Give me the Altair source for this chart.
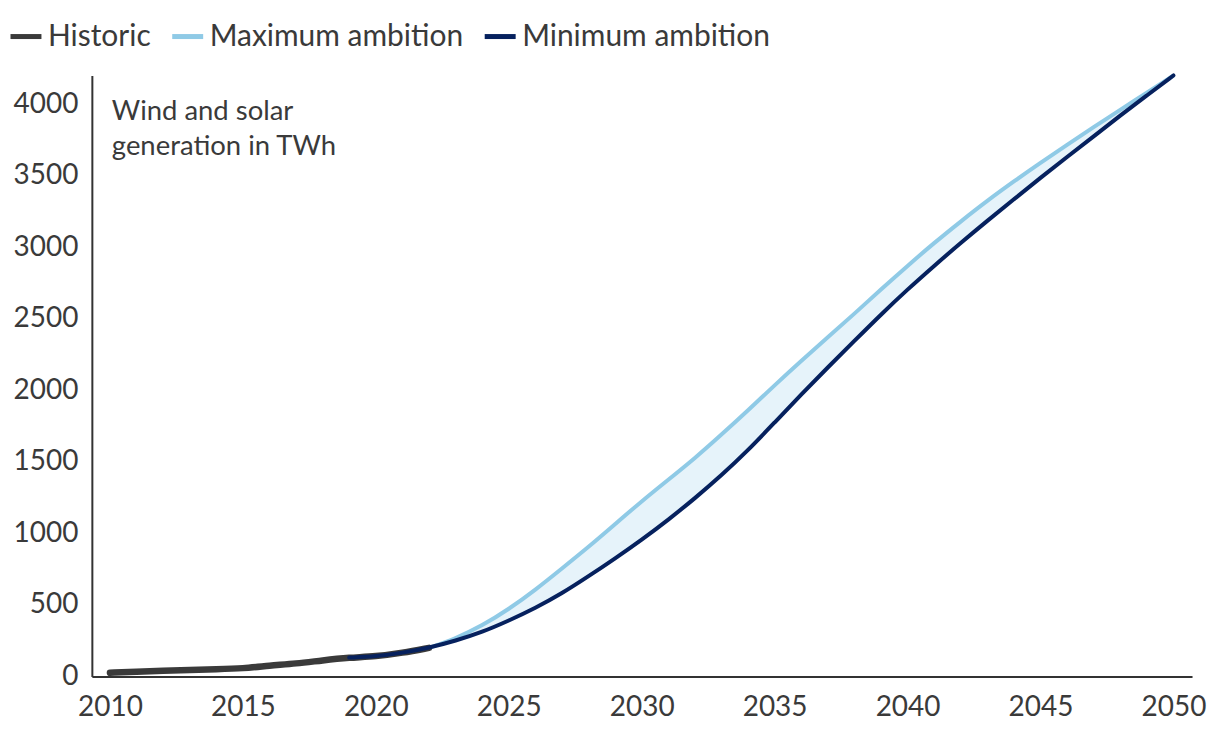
import altair as alt
import pandas as pd

# ---- data ----
hist_years = [2010, 2011, 2012, 2013, 2014, 2015, 2016, 2017, 2018, 2019, 2020, 2021, 2022]
hist_vals = [26, 33, 40, 46, 51, 56, 76, 90, 113, 132, 140, 165, 200]

max_years = list(range(2022, 2051))
max_vals = [200, 265, 355, 470, 605, 755, 905, 1065, 1225, 1375, 1525, 1690, 1860,
            2035, 2205, 2370, 2535, 2705, 2870, 3030, 3180, 3325, 3460, 3590, 3715,
            3840, 3960, 4080, 4200]

min_years = list(range(2019, 2051))
min_vals = [132, 140, 165, 200, 250, 310, 390, 478, 580, 700, 825, 955, 1095, 1245,
            1405, 1580, 1775, 1970, 2160, 2345, 2530, 2705, 2870, 3030, 3185, 3335,
            3485, 3630, 3775, 3920, 4060, 4200]

series_names = ["Historic", "Maximum ambition", "Minimum ambition"]
series_colors = ["#3a3a3a", "#8fcae6", "#06215e"]
x_ticks = [2010, 2015, 2020, 2025, 2030, 2035, 2040, 2045, 2050]
y_ticks = [0, 500, 1000, 1500, 2000, 2500, 3000, 3500, 4000]
note_lines = ["Wind and solar", "generation in TWh"]

hist_df = pd.DataFrame({"year": hist_years, "value": hist_vals, "series": "Historic"})
max_df = pd.DataFrame({"year": max_years, "value": max_vals, "series": "Maximum ambition"})
min_df = pd.DataFrame({"year": min_years, "value": min_vals, "series": "Minimum ambition"})
band_df = pd.DataFrame({"year": max_years, "value": max_vals,
                        "lo": [v for y, v in zip(min_years, min_vals) if y >= 2022]})

FONT = "Lato"
TXT = "#3a3a3a"
xscale = alt.Scale(domain=[2009.32, 2050.7], nice=False, zero=False)
yscale = alt.Scale(domain=[0, 4200], nice=False)
color = alt.Color(
    "series:N",
    scale=alt.Scale(domain=series_names, range=series_colors),
    legend=alt.Legend(
        title=None, orient="none", direction="horizontal",
        legendX=-84, legendY=-57,
        symbolType="stroke", symbolStrokeWidth=5, symbolSize=961,
        labelFontSize=30, labelFont=FONT, labelColor=TXT,
        labelOffset=4, columnPadding=10, labelLimit=400,
    ),
)

x_enc = alt.X("year:Q", scale=xscale, axis=alt.Axis(
    title=None, values=x_ticks, format="d", ticks=False, grid=False,
    labelFontSize=28, labelFont=FONT, labelColor=TXT, labelPadding=17,
    domainColor="#333333", domainWidth=2, labelFlush=False))
y_enc = alt.Y("value:Q", scale=yscale, axis=alt.Axis(
    title=None, values=y_ticks, format="d", ticks=False, grid=False,
    labelFontSize=28, labelFont=FONT, labelColor=TXT, labelPadding=14,
    domainColor="#333333", domainWidth=2))

INTERP = "basis"

band = alt.Chart(band_df).mark_area(color="#e6f3fa", interpolate=INTERP).encode(
    x=x_enc, y=y_enc, y2="lo:Q",
)

max_line = alt.Chart(max_df).mark_line(strokeWidth=4, interpolate=INTERP).encode(
    x=x_enc, y=y_enc, color=color)
hist_line = alt.Chart(hist_df).mark_line(strokeWidth=6.5, interpolate=INTERP,
                                         strokeCap="round").encode(
    x=x_enc, y=y_enc, color=color)
min_line = alt.Chart(min_df).mark_line(strokeWidth=4, interpolate=INTERP,
                                       strokeCap="round").encode(
    x=x_enc, y=y_enc, color=color)

note = alt.Chart(pd.DataFrame({"t": [note_lines]})).mark_text(
    align="left", baseline="middle", fontSize=27.5, font=FONT, color=TXT,
    lineHeight=35,
).encode(text="t", x=alt.value(20), y=alt.value(37))

chart = alt.layer(band, max_line, hist_line, min_line, note).properties(
    width=1102, height=602,
    autosize=alt.AutoSizeParams(type="none"),
    padding={"left": 84, "top": 67, "right": 20, "bottom": 50},
).configure_view(stroke=None)

chart.save("out.html", embed_options={"renderer": "svg", "actions": False})
